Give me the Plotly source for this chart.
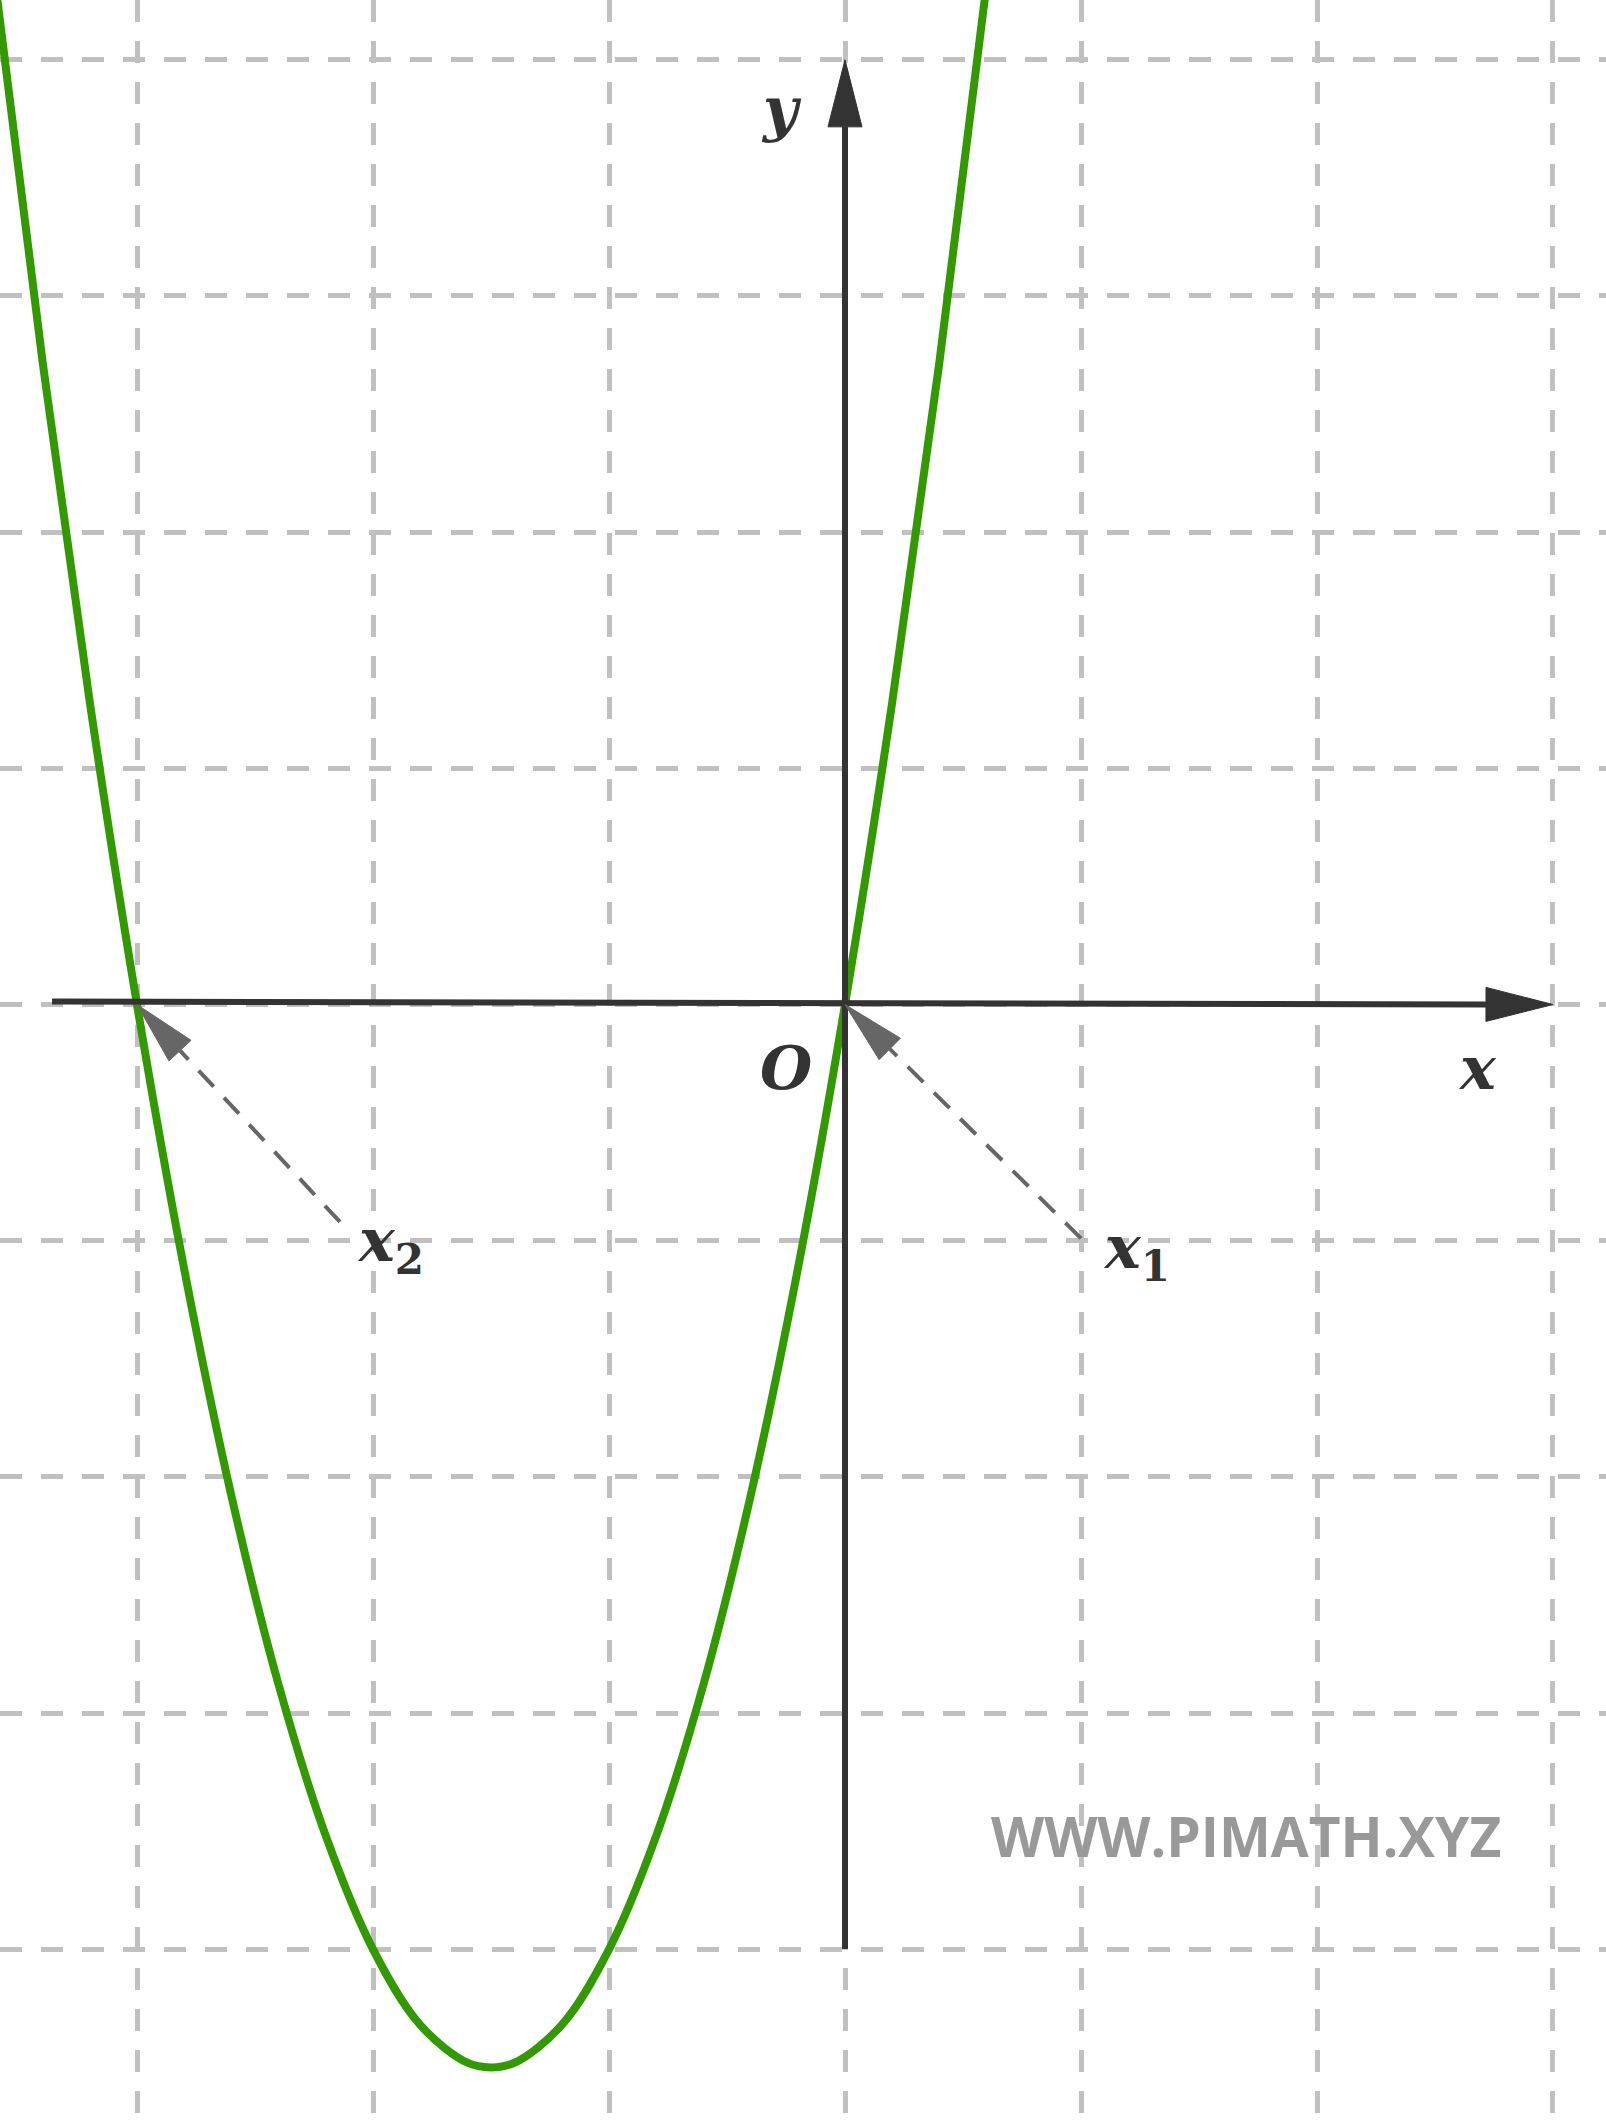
import math
import plotly.graph_objects as go

# ---- data ----
parabola_x = [-3.6, -3.4, -3.2, -3.0, -2.8, -2.6, -2.4, -2.2, -2.0, -1.8, -1.6, -1.5,
              -1.4, -1.2, -1.0, -0.8, -0.6, -0.4, -0.2, 0.0, 0.2, 0.4, 0.6]
parabola_y = [4.32, 2.72, 1.28, 0.0, -1.12, -2.08, -2.88, -3.52, -4.0, -4.32, -4.48, -4.5,
              -4.48, -4.32, -4.0, -3.52, -2.88, -2.08, -1.12, 0.0, 1.28, 2.72, 4.32]

x_axis_x = [-3.36, 3.0]
x_axis_y = [0.013, 0.0]
y_axis_x = [0.0, 0.0]
y_axis_y = [-4.0, 4.0]

root_tip_x = [0.0, -3.0]
root_tip_y = [0.0, 0.0]
root_tail_x = [1.0, -2.14]
root_tail_y = [-0.99, -0.92]

label_texts = ["<b><i>y</i></b>", "<b><i>O</i></b>", "<b><i>x</i></b>",
               "<b><i>x</i></b><sub><b>1</b></sub>", "<b><i>x</i></b><sub><b>2</b></sub>"]
label_x = [-0.267, -0.25, 2.68, 1.237, -1.924]
label_y = [3.79, -0.27, -0.27, -1.045, -1.015]

watermark_text = "WWW.PIMATH.XYZ"
watermark_x = [1.699]
watermark_y = [-3.52]

X_RANGE = [-3.5805, 3.2246]
Y_RANGE = [-4.748, 4.253]


def head_polygon(tip_x, tip_y, from_x, from_y, length, half_w):
    dx, dy = tip_x - from_x, tip_y - from_y
    n = math.hypot(dx, dy)
    ux, uy = dx / n, dy / n
    bx, by = tip_x - ux * length, tip_y - uy * length
    px, py = -uy, ux
    xs = [tip_x, bx + px * half_w, bx - px * half_w, tip_x]
    ys = [tip_y, by + py * half_w, by - py * half_w, tip_y]
    return xs, ys, (bx, by)


fig = go.Figure()

# parabola
fig.add_trace(go.Scatter(x=parabola_x, y=parabola_y, mode="lines",
                         line=dict(color="#339900", width=8, shape="spline"),
                         hoverinfo="skip"))

AX_COL = "#333333"
# x axis
hx, hy, base = head_polygon(x_axis_x[1], x_axis_y[1], x_axis_x[0], x_axis_y[0], 0.284, 0.072)
fig.add_trace(go.Scatter(x=[x_axis_x[0], base[0]], y=[x_axis_y[0], base[1]], mode="lines",
                         line=dict(color=AX_COL, width=6), hoverinfo="skip"))
fig.add_trace(go.Scatter(x=hx, y=hy, mode="lines", fill="toself", fillcolor=AX_COL,
                         line=dict(color=AX_COL, width=1), hoverinfo="skip"))
# y axis
hx, hy, base = head_polygon(y_axis_x[1], y_axis_y[1], y_axis_x[0], y_axis_y[0], 0.284, 0.072)
fig.add_trace(go.Scatter(x=[y_axis_x[0], base[0]], y=[y_axis_y[0], base[1]], mode="lines",
                         line=dict(color=AX_COL, width=6), hoverinfo="skip"))
fig.add_trace(go.Scatter(x=hx, y=hy, mode="lines", fill="toself", fillcolor=AX_COL,
                         line=dict(color=AX_COL, width=1), hoverinfo="skip"))

# dashed arrows to the roots
AR_COL = "#666666"
for tx, ty, fx, fy in zip(root_tip_x, root_tip_y, root_tail_x, root_tail_y):
    hx, hy, base = head_polygon(tx, ty, fx, fy, 0.267, 0.064)
    fig.add_trace(go.Scatter(x=[fx, base[0]], y=[fy, base[1]], mode="lines",
                             line=dict(color=AR_COL, width=4, dash="22px,15px"),
                             hoverinfo="skip"))
    fig.add_trace(go.Scatter(x=hx, y=hy, mode="lines", fill="toself", fillcolor=AR_COL,
                             line=dict(color=AR_COL, width=1), hoverinfo="skip"))

annotations = []
for t, x, y in zip(label_texts, label_x, label_y):
    annotations.append(dict(x=x, y=y, xref="x", yref="y", text=t, showarrow=False,
                            xanchor="center", yanchor="middle",
                            font=dict(family="DejaVu Serif", size=60, color="#333333")))
annotations.append(dict(x=watermark_x[0], y=watermark_y[0], xref="x", yref="y",
                        text="<b>" + watermark_text + "</b>", showarrow=False,
                        xanchor="center", yanchor="middle",
                        font=dict(family="Open Sans", size=55, color="#999999")))

grid = dict(showgrid=True, gridcolor="#c0c0c0", gridwidth=5, griddash="22px,19px",
            tick0=0, dtick=1, showticklabels=False, ticks="", zeroline=False,
            showline=False, fixedrange=True)

fig.update_layout(
    width=1606, height=2126,
    margin=dict(l=0, r=0, t=0, b=0),
    paper_bgcolor="white", plot_bgcolor="white",
    showlegend=False,
    xaxis=dict(range=X_RANGE, **grid),
    yaxis=dict(range=Y_RANGE, **grid),
    annotations=annotations,
)

fig.write_html("out.html", config={"displayModeBar": False},
               post_script="document.body.style.margin='0';document.body.style.overflow='hidden';")
